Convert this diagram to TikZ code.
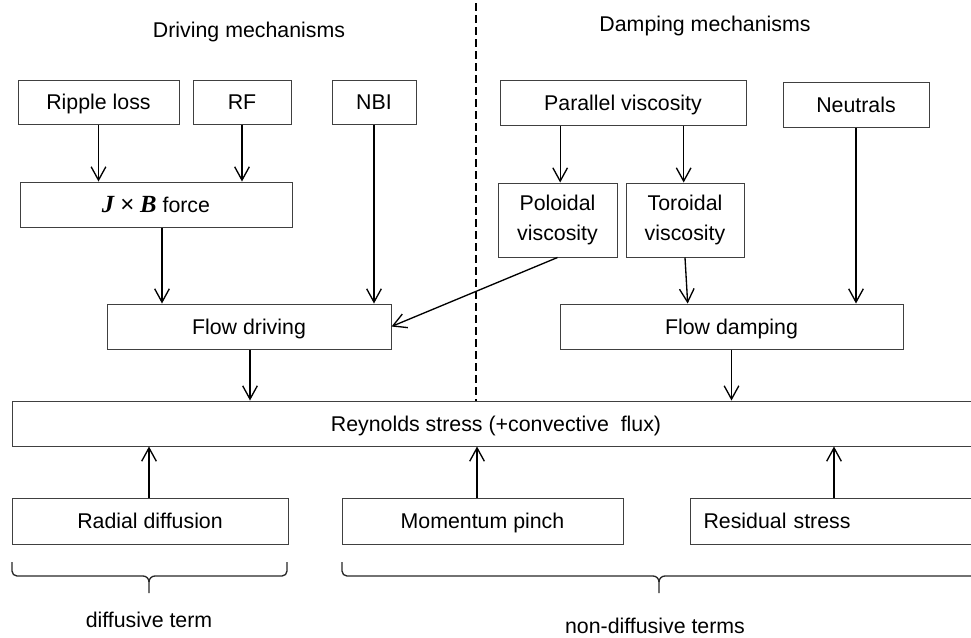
\documentclass[tikz,border=0pt]{standalone}
\usepackage{fontspec}
\setmainfont{Liberation Sans}
\newfontfamily\mathserif{Liberation Serif}
\usetikzlibrary{arrows.meta,calc}
\begin{document}
\begin{tikzpicture}[x=0.75pt,y=-0.75pt,
  every node/.style={font=\fontsize{16}{22.5}\selectfont},
  box/.style={draw=black!75,line width=0.75pt,inner sep=0pt,align=center,text height=13pt,text depth=1.5pt},
  conn/.style={line width=1pt,-{Straight Barb[length=10pt,width=11pt]}},
  bracestyle/.style={line width=1pt,black!85},
  divider/.style={line width=0.9pt,dash pattern=on 6pt off 3pt}]
\useasboundingbox (0,0) rectangle (971,637);
\clip (0,0) rectangle (971,637);
% titles
\node (tdrive) at (249,32) {Driving mechanisms};
\node (tdamp) at (705,26) {Damping mechanisms};
% driving side
\node[box,minimum width=120.75pt,minimum height=33pt] (ripple) at (98.5,102) {Ripple loss};
\node[box,minimum width=73.5pt,minimum height=33pt] (rf) at (242,102) {RF};
\node[box,minimum width=63pt,minimum height=33pt] (nbi) at (374,102) {NBI};
\node[box,minimum width=204pt,minimum height=33.75pt] (jxb) at (156,204.5)
  {{\fontsize{18.5}{18}\selectfont\mathserif\bfseries\itshape J} {\fontsize{18}{18}\selectfont ×} {\fontsize{18.5}{18}\selectfont\mathserif\bfseries\itshape B} force};
\node[box,minimum width=213pt,minimum height=33.75pt] (fdrive) at (249,326.5) {Flow driving};
% damping side
\node[box,minimum width=184.5pt,minimum height=33.75pt] (par) at (623,102.5) {Parallel viscosity};
\node[box,minimum width=109.5pt,minimum height=33.75pt] (neu) at (856,104.5) {Neutrals};
\node[box,minimum width=89.25pt,minimum height=55.5pt,text height=,text depth=] (polo) at (557.5,220) {Poloidal\\viscosity};
\node[box,minimum width=88.5pt,minimum height=55.5pt,text height=,text depth=] (toro) at (685,220) {Toroidal\\viscosity};
\node[box,minimum width=257.25pt,minimum height=33.75pt] (fdamp) at (731.5,326.5) {Flow damping};
% central
\node[box,minimum width=726pt,minimum height=33.75pt] (rey) at (496,423.5) {Reynolds stress (+convective\ \ flux)};
% bottom
\node[box,minimum width=207pt,minimum height=34.5pt] (radial) at (150,521) {Radial diffusion};
\node[box,minimum width=210.75pt,minimum height=34.5pt] (pinch) at (482.5,521) {Momentum pinch};
\node[box,anchor=west,minimum height=34.5pt,inner xsep=9.75pt,text width=213pt,align=left] (resid) at (690,521) {Residual stress};
% divider
\coordinate (dtop) at (476,3);
\draw[divider] (dtop) -- (dtop |- rey.north);
% arrows driving
\draw[conn] (ripple.south) -- (ripple.south |- jxb.north);
\draw[conn] (rf.south) -- (rf.south |- jxb.north);
\draw[conn] ([xshift=4.5pt]jxb.south) -- ([xshift=4.5pt]jxb.south |- fdrive.north);
\draw[conn] (nbi.south) -- (nbi.south |- fdrive.north);
\draw[conn] (polo.south) -- (fdrive.east);
% arrows damping
\draw[conn] ([xshift=2pt]polo.north |- par.south) -- ([xshift=2pt]polo.north);
\draw[conn] ([xshift=-1pt]toro.north |- par.south) -- ([xshift=-1pt]toro.north);
\draw[conn] (toro.south) -- ([xshift=2pt]toro.south |- fdamp.north);
\draw[conn] (neu.south) -- (neu.south |- fdamp.north);
% to reynolds
\draw[conn] ([xshift=0.75pt]fdrive.south) -- ([xshift=0.75pt]fdrive.south |- rey.north);
\draw[conn] (fdamp.south) -- (fdamp.south |- rey.north);
\draw[conn] ([xshift=-0.75pt]radial.north) -- ([xshift=-0.75pt]radial.north |- rey.south);
\draw[conn] ([xshift=-4.1pt]pinch.north) -- ([xshift=-4.1pt]pinch.north |- rey.south);
\draw[conn] ([xshift=108pt]resid.north west) -- ([xshift=108pt]resid.north west |- rey.south);
% braces
\coordinate (b1l) at (12,562);
\coordinate (b1m) at (149,576);
\coordinate (b1r) at (287,562);
\draw[bracestyle] (b1l) -- ++(0,9) to[out=-90,in=180] ++(5,5) -- ($(b1m)+(-6,0)$) to[out=0,in=90] ++(6,6) -- ++(0,11);
\draw[bracestyle] ($(b1m)+(0,6)$) to[out=90,in=180] ++(6,-6) -- ($(b1r)+(-5,14)$) to[out=0,in=-90] ++(5,-5) -- (b1r);
\coordinate (b2l) at (342,562);
\coordinate (b2m) at (659,576);
\draw[bracestyle] (b2l) -- ++(0,9) to[out=-90,in=180] ++(5,5) -- ($(b2m)+(-6,0)$) to[out=0,in=90] ++(6,6) -- ++(0,11);
\draw[bracestyle] ($(b2m)+(0,6)$) to[out=90,in=180] ++(6,-6) -- (990,576);
\node (ldiff) at (149,620) {diffusive term};
\node (lnondiff) at (655,626) {non-diffusive terms};
\end{tikzpicture}
\end{document}
